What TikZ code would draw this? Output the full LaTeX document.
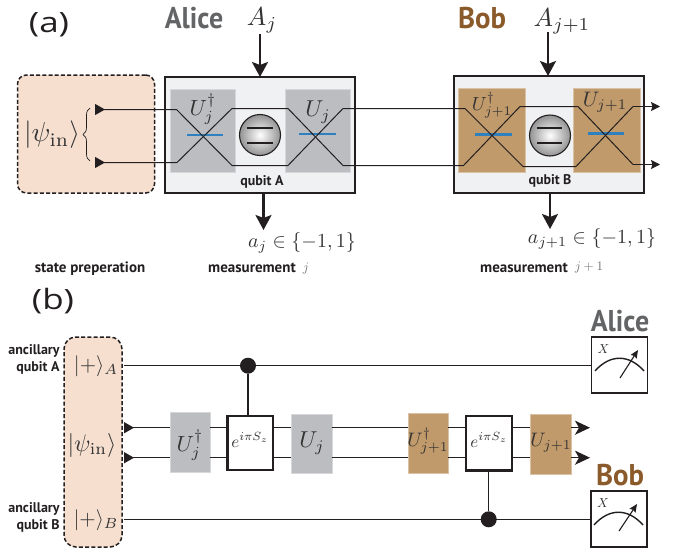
\documentclass[tikz,border=0pt]{standalone}
\usepackage{fontspec}
\setsansfont{PT Sans}
\usetikzlibrary{arrows.meta,decorations.pathreplacing,shapes.geometric}
\definecolor{peach}{HTML}{F6DFCF}
\definecolor{gategray}{HTML}{BBBDC0}
\definecolor{gatetan}{HTML}{C19A6B}
\definecolor{bobbrown}{HTML}{8B5A2B}
\definecolor{alicegray}{HTML}{636466}
\definecolor{panelbg}{HTML}{F0F1F3}
\definecolor{ink}{HTML}{231F20}
\definecolor{barblue}{HTML}{2F80BE}
\definecolor{mathgray}{HTML}{333333}
\tikzset{
  x=1pt,y=-1pt,
  every node/.style={inner sep=0pt,outer sep=0pt},
  dashbox/.style={draw=ink,fill=peach,line width=1.5pt,dash pattern=on 4pt off 2.2pt},
  panel/.style={draw=ink,fill=panelbg,line width=1.7pt},
  graygate/.style={fill=gategray,draw=gategray!60!white,line width=.4pt},
  tangate/.style={fill=gatetan,draw=gatetan!60!white,line width=.4pt},
  wire/.style={draw=ink,line width=1pt},
  qwire/.style={draw=ink,line width=1.5pt},
  bigarrow/.style={draw=ink,line width=2.4pt,-{Stealth[length=15pt,width=16pt,inset=3pt]}},
  outarrow/.style={draw=ink,line width=1.5pt,-{Stealth[length=15pt,width=14pt,inset=4pt]}},
  smallout/.style={draw=ink,line width=1pt,-{Stealth[length=9pt,width=9pt,inset=1.5pt]}},
  starttri/.style={{Triangle[reversed,length=10pt,width=11pt]}-},
  barline/.style={draw=barblue,line width=2.6pt},
  level/.style={draw=ink,line width=2pt},
  qubit/.style={circle,draw=ink,line width=1.1pt,minimum size=41pt,inner color=white,outer color=gray!85!white},
  cgate/.style={draw=ink,fill=white,line width=2.5pt},
  meter/.style={draw=ink,fill=white,line width=1.6pt},
  dot/.style={circle,fill=ink,minimum size=16pt},
  mathtxt/.style={text=mathgray,scale=2.1},
  boldlbl/.style={font=\sffamily\bfseries\fontsize{15}{16.5}\selectfont,text=ink,align=right},
  gatebold/.style={font=\sffamily\bfseries\fontsize{14}{16}\selectfont,text=ink},
  anclbl/.style={font=\sffamily\bfseries\fontsize{14}{16.5}\selectfont,text=ink,align=right},
  name lbl/.style={font=\sffamily\bfseries\fontsize{30}{33}\selectfont},
  panellbl/.style={font=\fontspec{Open Sans}\fontsize{28}{32}\selectfont,text=ink,xscale=1.25},
}
\begin{document}
\begin{tikzpicture}
\useasboundingbox (0,0) rectangle (691,552);
% panel (a)
\node[panellbl] (la) at (49,25) {(a)};
\node[name lbl,text=alicegray,xscale=.93] (alice1) at (194,18) {Alice};
\node[name lbl,text=bobbrown,xscale=.96] (bob1) at (482,18) {Bob};
\node[text=mathgray,scale=2.6] (Aj) at (262,20) {$A_j$};
\node[text=mathgray,scale=2.6] (Aj1) at (562,21) {$A_{j+1}$};
\node[dashbox,rounded corners=9pt,minimum width=137pt,minimum height=118pt] (prep) at (86,134) {};
\node[panel,minimum width=190pt,minimum height=116pt] (qa) at (260,135) {};
\node[panel,minimum width=190pt,minimum height=117pt] (qb) at (549,134.5) {};
\node[graygate,minimum width=65pt,minimum height=83pt] (ga1) at (202.5,130.5) {};
\node[graygate,minimum width=65pt,minimum height=83pt] (ga2) at (318,130.5) {};
\node[tangate,minimum width=67pt,minimum height=84pt] (gb1) at (491.5,130) {};
\node[tangate,minimum width=66.5pt,minimum height=84pt] (gb2) at (606.7,130) {};
\node[text=mathgray,scale=2.2] (ua1) at (203,109) {$U_j^\dagger$};
\node[text=mathgray,scale=2.3] (ua2) at (318,112) {$U_j$};
\node[text=mathgray,scale=1.9] (ub1) at (492,105) {$U_{j+1}^\dagger$};
\node[text=mathgray,scale=2.1] (ub2) at (605,102) {$U_{j+1}$};
% beam-splitter bars
\coordinate (ba1) at (187,135); \coordinate (ba2) at (223,135);
\coordinate (ba3) at (299,134); \coordinate (ba4) at (336,134);
\coordinate (bb1) at (475,134.5); \coordinate (bb2) at (512,134.5);
\coordinate (bb3) at (588,133.5); \coordinate (bb4) at (624,133.5);
\draw[barline] (ba1) -- (ba2);
\draw[barline] (ba3) -- (ba4);
\draw[barline] (bb1) -- (bb2);
\draw[barline] (bb3) -- (bb4);
% wires
\coordinate (t0) at (95,109.5);
\coordinate (t1) at (176.5,109.5); \coordinate (t2) at (232,165.5); \coordinate (t3) at (288,165.5);
\coordinate (t4) at (343,108.5); \coordinate (t5) at (465,108.5); \coordinate (t6) at (523,166.5);
\coordinate (t7) at (576,166.5); \coordinate (t8) at (633,106.5); \coordinate (t9) at (660,106.5);
\coordinate (u0) at (95,162.5);
\coordinate (u1) at (177,162.5); \coordinate (u2) at (232,108.5); \coordinate (u3) at (288,108.5);
\coordinate (u4) at (343,165.5); \coordinate (u5) at (463.5,165.5); \coordinate (u6) at (520,106.5);
\coordinate (u7) at (578,106.5); \coordinate (u8) at (633,164.5); \coordinate (u9) at (660,164.5);
\draw[wire,starttri] (t0) -- (t1) -- (t2) -- (t3) -- (t4) -- (t5) -- (t6) -- (t7) -- (t8);
\draw[wire,starttri] (u0) -- (u1) -- (u2) -- (u3) -- (u4) -- (u5) -- (u6) -- (u7) -- (u8);
\draw[smallout] (t8) -- (t9);
\draw[smallout] (u8) -- (u9);
\node[qubit] (ca) at (260,135) {};
\node[qubit] (cb) at (550,135.5) {};
\coordinate (la1) at (247,128); \coordinate (la2) at (273,128);
\coordinate (la3) at (247,143); \coordinate (la4) at (273,143);
\coordinate (lb1) at (537,127.6); \coordinate (lb2) at (562,127.6);
\coordinate (lb3) at (537,143); \coordinate (lb4) at (562,143);
\draw[level] (la1) -- (la2);
\draw[level] (la3) -- (la4);
\draw[level] (lb1) -- (lb2);
\draw[level] (lb3) -- (lb4);
\node[text=mathgray,scale=2.75] (psi1) at (52,135) {$|\psi_{\rm in}\rangle$};
\coordinate (br1) at (90,108); \coordinate (br2) at (90,161);
\draw[draw=ink,line width=.7pt,decorate,decoration={brace,amplitude=7pt,mirror}] (br1) -- (br2);
\node[gatebold] (qaL) at (262,182) {qubit A};
\node[gatebold] (qbL) at (550,181) {qubit B};
\coordinate (ia) at (260,34); \coordinate (ib) at (548,32);
\draw[bigarrow] (ia) -- (ia|-qa.north);
\draw[bigarrow] (ib) -- (ib|-qb.north);
\coordinate (oa) at (263.5,230); \coordinate (ob) at (550,229);
\draw[bigarrow] (oa|-qa.south) -- (oa);
\draw[bigarrow] (ob|-qb.south) -- (ob);
\node[text=mathgray,scale=2] (ma) at (302,243) {$a_j\in\{-1,1\}$};
\node[text=mathgray,scale=2] (mb) at (592,239) {$a_{j+1}\in\{-1,1\}$};
\node[boldlbl] (sp) at (90,269) {state preperation};
\node[boldlbl] (m1) at (252,268) {measurement};
\node[text=mathgray!70,scale=1.3] (m1j) at (306,268) {$j$};
\node[boldlbl] (m2) at (524,268) {measurement};
\node[text=mathgray!70,scale=1.3] (m2j) at (589,267) {$j+1$};
% panel (b)
\node[panellbl] (lb) at (53,301) {(b)};
\node[dashbox,rounded corners=12pt,minimum width=58pt,minimum height=210pt] (prepb) at (93,442) {};
\node[mathtxt] (pa) at (96,366) {$|+\rangle_A$};
\node[text=mathgray,scale=2.4] (pp) at (92,445) {$|\psi_{\rm in}\rangle$};
\node[mathtxt] (pb) at (96,520) {$|+\rangle_B$};
\node[anclbl] (anca) at (34,359.5) {ancillary\\qubit A};
\node[anclbl] (ancb) at (34,517.5) {ancillary\\qubit B};
\node[meter,minimum size=56pt] (ma2) at (619.5,364.7) {};
\node[meter,minimum size=56pt] (mb2) at (619,518.7) {};
\node[graygate,minimum width=40.5pt,minimum height=59.5pt] (g1) at (190,442.3) {};
\node[cgate,minimum width=45.5pt,minimum height=54pt] (c1) at (250.3,443) {};
\node[graygate,minimum width=40.5pt,minimum height=59pt] (g2) at (311.7,443.5) {};
\node[tangate,minimum width=40.5pt,minimum height=60pt] (g3) at (428,443) {};
\node[cgate,minimum width=46pt,minimum height=54.5pt] (c2) at (489,443) {};
\node[tangate,minimum width=41pt,minimum height=60pt] (g4) at (550.5,444) {};
\coordinate (w1) at (124,427.7); \coordinate (w2) at (124,457.7);
\coordinate (e1) at (590,427.7); \coordinate (e2) at (590,457.7);
\draw[qwire,starttri] (w1) -- (g1.west|-w1);
\draw[qwire] (g1.east|-w1) -- (c1.west|-w1);
\draw[qwire] (c1.east|-w1) -- (g2.west|-w1);
\draw[qwire] (g2.east|-w1) -- (g3.west|-w1);
\draw[qwire] (g3.east|-w1) -- (c2.west|-w1);
\draw[qwire] (c2.east|-w1) -- (g4.west|-w1);
\draw[outarrow] (g4.east|-w1) -- (e1);
\draw[qwire,starttri] (w2) -- (g1.west|-w2);
\draw[qwire] (g1.east|-w2) -- (c1.west|-w2);
\draw[qwire] (c1.east|-w2) -- (g2.west|-w2);
\draw[qwire] (g2.east|-w2) -- (g3.west|-w2);
\draw[qwire] (g3.east|-w2) -- (c2.west|-w2);
\draw[qwire] (c2.east|-w2) -- (g4.west|-w2);
\draw[outarrow] (g4.east|-w2) -- (e2);
\coordinate (qa0) at (124,365.7); \coordinate (qb0) at (124,519.3);
\node[dot] (da) at (248,365.7) {};
\node[dot] (db) at (488.7,519.3) {};
\draw[qwire] (qa0) -- (ma2.west|-qa0);
\draw[qwire] (qb0) -- (mb2.west|-qb0);
\draw[qwire] (da) -- (da|-c1.north);
\draw[qwire] (db) -- (db|-c2.south);
\node[text=mathgray,scale=2.2] (m1a) at (190,445) {$U_j^\dagger$};
\node[text=mathgray,scale=1.7] (e1t) at (250,440) {$e^{i\pi S_z}$};
\node[text=mathgray,scale=2.3] (m2a) at (312,443) {$U_j$};
\node[text=mathgray,scale=1.95] (m3a) at (428,441) {$U_{j+1}^\dagger$};
\node[text=mathgray,scale=1.7] (e2t) at (489,440) {$e^{i\pi S_z}$};
\node[text=mathgray,scale=1.95] (m4a) at (551,443) {$U_{j+1}$};
% meters
\node[name lbl,text=alicegray,xscale=.93] (alice2) at (620,321) {Alice};
\node[name lbl,text=bobbrown,xscale=.96] (bob2) at (620,475) {Bob};
\node[text=mathgray,scale=1.3] (xa) at (603.5,349) {$X$};
\node[text=mathgray,scale=1.3] (xb) at (603,503) {$X$};
\coordinate (aa1) at (595,371); \coordinate (aa2) at (644,371);
\coordinate (na1) at (620,378); \coordinate (na2) at (638,350);
\coordinate (ab1) at (594,525); \coordinate (ab2) at (643,525);
\coordinate (nb1) at (619,531); \coordinate (nb2) at (637,504);
\draw[draw=ink,line width=1.4pt] (aa1) .. controls (610,354) and (629,354) .. (aa2);
\draw[draw=ink,line width=1.4pt] (ab1) .. controls (609,508) and (628,508) .. (ab2);
\draw[draw=ink,line width=1.1pt,-{Stealth[length=8pt,width=7pt,inset=1pt]}] (na1) -- (na2);
\draw[draw=ink,line width=1.1pt,-{Stealth[length=8pt,width=7pt,inset=1pt]}] (nb1) -- (nb2);
\end{tikzpicture}
\end{document}
